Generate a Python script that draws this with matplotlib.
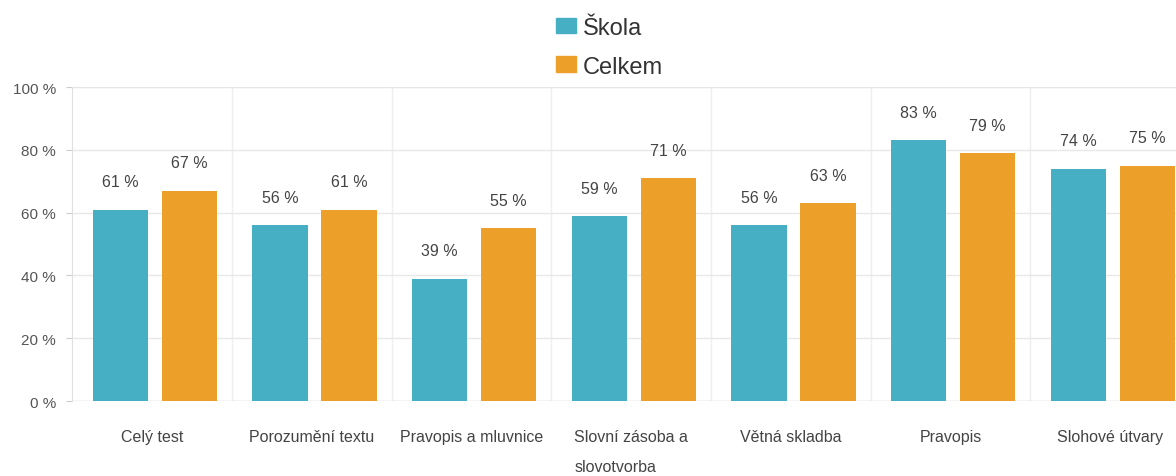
import numpy as np
import matplotlib
matplotlib.use("Agg")
import matplotlib.pyplot as plt
from matplotlib.patches import Patch

plt.rcParams['font.family'] = ['Liberation Sans', 'DejaVu Sans']

# data
categories = ["Celý test", "Porozumění textu", "Pravopis a mluvnice",
              "Slovní zásoba a\nslovotvorba", "Větná skladba", "Pravopis",
              "Slohové útvary"]
skola = [61, 56, 39, 59, 56, 83, 74]
celkem = [67, 61, 55, 71, 63, 79, 75]
series_names = ["Škola", "Celkem"]

# layout / style
C_SKOLA = "#47afc3"
C_CELKEM = "#eca02a"
BAR_W = 0.345
OFFS = (-0.2, 0.232)

fig = plt.figure(figsize=(11.76, 4.77), dpi=100)
ax = fig.add_axes([0.0616, 0.157, 0.9504, 0.6585])

x = np.arange(len(categories))
b1 = ax.bar(x + OFFS[0], skola, BAR_W, color=C_SKOLA, zorder=3)
b2 = ax.bar(x + OFFS[1], celkem, BAR_W, color=C_CELKEM, zorder=3)

for bars, vals in ((b1, skola), (b2, celkem)):
    for r, v in zip(bars, vals):
        ax.annotate(f"{v} %", (r.get_x() + r.get_width() / 2, v),
                    xytext=(0, 20), textcoords="offset points",
                    ha="center", va="center", fontsize=11.5, color="#444444")

ax.set_xlim(-0.5, len(categories) - 0.5)
ax.set_ylim(0, 100)

ax.set_yticks(np.arange(0, 101, 20))
ax.set_yticklabels([f"{v} %" for v in range(0, 101, 20)])
ax.tick_params(axis="y", length=4, color="#cccccc", pad=8,
               labelsize=11, labelcolor="#555555")

ax.set_xticks(x)
ax.set_xticklabels(categories, linespacing=2.3, multialignment="left")
ax.tick_params(axis="x", length=0, pad=20, labelsize=11.5, labelcolor="#444444")
for lab in ax.get_xticklabels():
    lab.set_va("top")

# category separators
ax.set_xticks(x[:-1] + 0.5, minor=True)
ax.tick_params(axis="x", which="minor", length=0)
ax.grid(True, which="minor", axis="x", color="#eeeeee", lw=1, zorder=0)
ax.grid(True, which="major", axis="y", color="#e8e8e8", lw=1, zorder=0)

for s in ("right", "bottom"):
    ax.spines[s].set_visible(False)
ax.spines["left"].set_color("#e0e0e0")
ax.spines["top"].set_color("#e6e6e6")
ax.axhline(0, color="#e0e0e0", lw=1, zorder=2)

handles = [Patch(color=C_SKOLA), Patch(color=C_CELKEM)]
fig.legend(handles, series_names, loc="upper center",
           bbox_to_anchor=(0.518, 0.992), frameon=False, fontsize=17,
           labelcolor="#333333",
           handlelength=0.85, handleheight=0.64, handletextpad=0.3,
           labelspacing=0.7, borderaxespad=0.2)

fig.savefig("out.png", dpi=100)
